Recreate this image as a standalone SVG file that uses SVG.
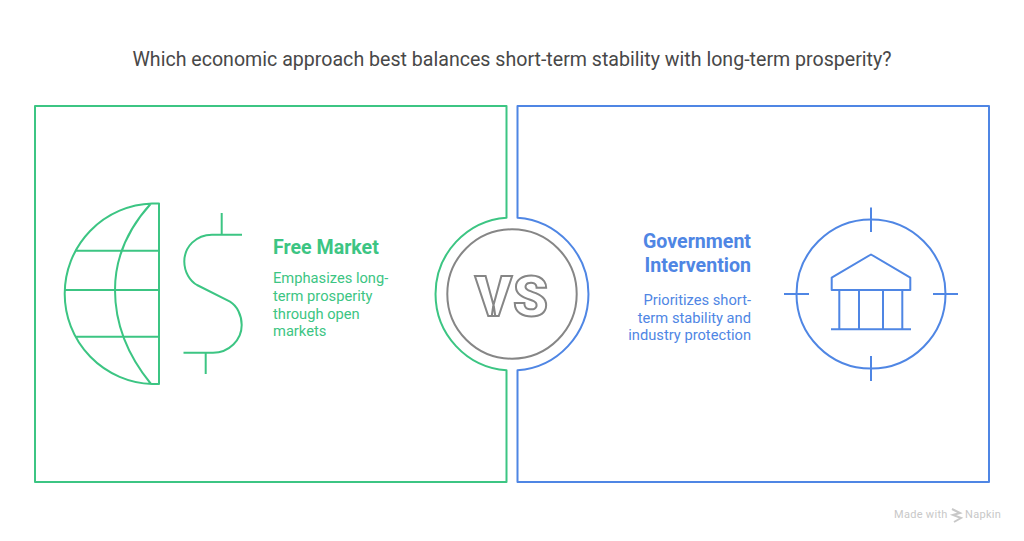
<svg xmlns="http://www.w3.org/2000/svg" width="1024" height="541" viewBox="0 0 1024 541">
<style>
text{font-family:Roboto,"Liberation Sans",sans-serif}
.g{fill:none;stroke:#3cc583;stroke-width:2;stroke-linejoin:round}
.b{fill:none;stroke:#4f86e4;stroke-width:2;stroke-linejoin:round}
.title{font-size:19.6px;fill:#484848;text-anchor:middle}
.gh{font-size:19.6px;font-weight:700;fill:#3cc583}
.gt{font-size:14.7px;fill:#3cc583}
.bh{font-size:19.6px;font-weight:700;fill:#4f86e4;text-anchor:end}
.bt{font-size:14.7px;fill:#4f86e4;text-anchor:end}
.foot{font-size:11px;fill:#c8c8c8;letter-spacing:.3px}
</style>
<rect width="1024" height="541" fill="#fff"/>
<g id="title"><text class="title" x="512" y="65.7">Which economic approach best balances short-term stability with long-term prosperity?</text></g>
<g id="free-market">
<path class="g" d="M506.5 106H35V482H506.5V370.3A76.5 76.5 0 0 1 506.5 217.7Z"/>
<path class="g" d="M159 203.5H152A90.3 90.3 0 0 0 152 384H159ZM151 203.5Q115 243 115 290Q115 340 151 384M76 250.7H159M65 290H159M76 336.7H159"/>
<path class="g" d="M221.7 213V234.7M242 234.7H212C196 234.7 184.3 247 184.3 261.5C184.3 272 190 281 197 285L230 301.7C237 306 241.7 315 241.7 325C241.7 340 229 352.7 213 352.7H183.5M205.7 352.7V374"/>
<text class="gh" x="273" y="253.7">Free Market</text>
<text class="gt" x="273" y="283">Emphasizes long-</text>
<text class="gt" x="273" y="301">term prosperity</text>
<text class="gt" x="273" y="319">through open</text>
<text class="gt" x="273" y="336">markets</text>
</g>
<g id="government-intervention">
<path class="b" d="M517.5 106H989V482H517.5V370.3A76.5 76.5 0 0 0 517.5 217.7Z"/>
<circle class="b" cx="871" cy="294" r="74.5"/>
<path class="b" d="M871 207.5V232M871 356V381M784 294H809M933 294H958"/>
<path class="b" d="M871 254.5L910.3 277.7V290H831.7V277.7ZM839.3 290V329.3M859 290V329.3M883 290V329.3M902.3 290V329.3M831 329.3H911"/>
<text class="bh" x="751" y="247.7">Government</text>
<text class="bh" x="751" y="271.7">Intervention</text>
<text class="bt" x="751" y="305">Prioritizes short-</text>
<text class="bt" x="751" y="323">term stability and</text>
<text class="bt" x="751" y="340">industry protection</text>
</g>
<g id="vs">
<circle cx="512" cy="294" r="64.7" fill="#fff" stroke="#868686" stroke-width="2"/>
<text x="512" y="315.5" text-anchor="middle" font-size="56" font-weight="900" letter-spacing="1" fill="#fff" stroke="#868686" stroke-width="2">VS</text>
</g>
<g id="connectors"></g>
<g id="footer">
<text class="foot" x="894" y="518">Made with</text>
<path d="M952 509L960 513L953 515L961 518L954 522" fill="none" stroke="#c8c8c8" stroke-width="2"/>
<text class="foot" x="965" y="518">Napkin</text>
</g>
</svg>
